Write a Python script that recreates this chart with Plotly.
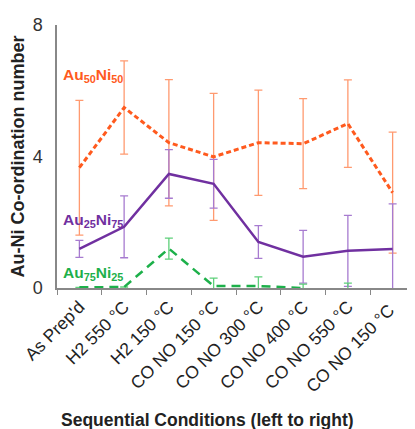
import plotly.graph_objects as go

categories = ["As Prep'd", "H2 550 °C", "H2 150 °C", "CO NO 150 °C",
              "CO NO 300 °C", "CO NO 400 °C", "CO NO 550 °C", "CO NO 150 °C "]

au50_vals = [3.66, 5.49, 4.42, 3.99, 4.42, 4.39, 5.00, 2.90]
au50_err = [2.05, 1.42, 1.92, 1.93, 1.60, 1.37, 1.33, 1.84]

au25_vals = [1.19, 1.86, 3.47, 3.17, 1.40, 0.95, 1.13, 1.19]
au25_err = [0.26, 0.94, 0.74, 0.74, 0.50, 0.80, 1.08, 1.37]

au75_vals = [0.02, 0.03, 1.20, 0.06, 0.06, 0.0, 0.0, None]
au75_err = [0.0, 0.0, 0.32, 0.24, 0.28, 0.12, 0.15, 0.0]
au75_line = [0.02, 0.03, 1.20, 0.06, 0.06, 0.0, None, None]

y_ticks = [0, 4, 8]

fig = go.Figure()

def err_trace(vals, errs, color):
    return go.Scatter(x=categories, y=vals, mode="markers",
                      marker=dict(size=0.1, color="rgba(0,0,0,0)"),
                      error_y=dict(type="data", array=errs, visible=True,
                                   color=color, thickness=1.3, width=4),
                      showlegend=False, hoverinfo="skip")

fig.add_trace(err_trace(au50_vals, au50_err, "#FF9A70"))
fig.add_trace(err_trace(au25_vals, au25_err, "#A77BD0"))
fig.add_trace(err_trace(au75_vals, au75_err, "#5ED07A"))

fig.add_trace(go.Scatter(x=categories, y=au50_vals, mode="lines",
                         line=dict(color="#FF5A1E", width=3, dash="5px,3px"),
                         showlegend=False))
fig.add_trace(go.Scatter(x=categories, y=au25_vals, mode="lines",
                         line=dict(color="#7030A0", width=2.5),
                         showlegend=False))
fig.add_trace(go.Scatter(x=categories, y=au75_line, mode="lines",
                         line=dict(color="#1DB04A", width=2.5, dash="9px,6px"),
                         connectgaps=False, showlegend=False))

font_family = "Liberation Sans, Arial, sans-serif"

fig.update_layout(
    width=407, height=421,
    margin=dict(l=49, r=0, t=17, b=141, autoexpand=False),
    paper_bgcolor="white", plot_bgcolor="white",
    font=dict(family=font_family, color="#222"),
    xaxis=dict(type="category", range=[-0.5, 7.5], automargin=False,
               showline=True, linecolor="#888", linewidth=1.5,
               ticks="outside", tickson="boundaries", ticklen=5, tickcolor="#888",
               tickangle=-45, tickfont=dict(size=17.5, color="#222"),
               showgrid=False, zeroline=False),
    yaxis=dict(range=[0, 8], tickvals=y_ticks, ticktext=[str(v) for v in y_ticks],
               automargin=False,
               showline=True, linecolor="#888", linewidth=1.5,
               ticks="", tickfont=dict(size=18, color="#333"), ticklabelstandoff=9,
               showgrid=False, zeroline=False,
               title=dict(text="<b>Au-Ni Co-ordination number</b>",
                          font=dict(size=18, color="#222"), standoff=4)),
)

fig.add_annotation(x=0.42, xref="paper", y=-0.502, yref="paper",
                   xanchor="center", yanchor="middle", showarrow=False,
                   text="<b>Sequential Conditions (left to right)</b>",
                   font=dict(size=17.5, color="#222", family=font_family))

def label(text_main, y, color):
    fig.add_annotation(x=0.01, xref="paper", y=y, yref="y", xanchor="left",
                       yanchor="middle", showarrow=False, text=text_main,
                       font=dict(size=15.5, color=color, family=font_family))

label("<b>Au<sub>50</sub>Ni<sub>50</sub></b>", 6.45, "#FF5A1E")
label("<b>Au<sub>25</sub>Ni<sub>75</sub></b>", 2.05, "#7030A0")
label("<b>Au<sub>75</sub>Ni<sub>25</sub></b>", 0.45, "#1DB04A")

fig.write_html("out.html")
